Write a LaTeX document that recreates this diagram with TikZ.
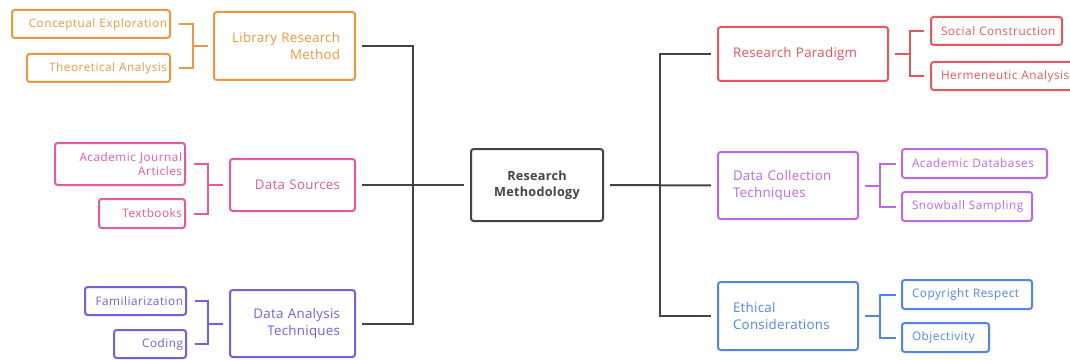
\documentclass[tikz,border=0pt]{standalone}
\usepackage{fontspec}
\setmainfont[LetterSpace=2]{Open Sans}
\newfontfamily\leaffont[LetterSpace=4.5]{Open Sans}
\definecolor{cOrange}{RGB}{240,150,60}
\definecolor{cPink}{RGB}{228,90,160}
\definecolor{cIndigo}{RGB}{112,96,226}
\definecolor{cRed}{RGB}{226,88,94}
\definecolor{cViolet}{RGB}{190,104,232}
\definecolor{cBlue}{RGB}{80,134,234}
\definecolor{cGray}{RGB}{68,68,68}
\tikzset{every picture/.style={line width=0.75pt}}
\tikzset{
  mbox/.style={draw, rounded corners=2pt, line width=1.5pt, inner sep=0pt,
    font=\fontsize{10}{12.5}\selectfont},
  leaf/.style={mbox, font=\leaffont\fontsize{8.8}{10.5}\selectfont},
  lft/.style={align=right},
  rgt/.style={align=left},
  trunk/.style={draw=cGray, line width=1.5pt, shorten <=4.5pt, shorten >=4.5pt},
  twig/.style={line width=1.5pt},
}

\begin{document}
\begin{tikzpicture}[x=0.75pt,y=0.75pt,yscale=-1,xscale=1]
\fill[white] (0,0) rectangle (1070,360);
\clip (0,0) rectangle (1070,360);

%Centre
\node[mbox, draw=cGray, text=cGray, align=center, minimum width=99pt, minimum height=54pt, text width=75pt,
  font=\fontsize{9.5}{12}\selectfont\bfseries] (meth) at (537,185) {Research\\Methodology};

%Left branches
\node[mbox, lft, draw=cOrange, text=cOrange, minimum width=105.75pt, minimum height=51pt, text width=83.25pt] (lib) at (284.5,46) {Library Research\\Method};
\node[mbox, lft, draw=cPink, text=cPink, minimum width=93.75pt, minimum height=39pt, text width=71.25pt] (src) at (292.5,185) {Data Sources};
\node[mbox, lft, draw=cIndigo, text=cIndigo, minimum width=93.75pt, minimum height=50.25pt, text width=71.25pt] (ana) at (292.5,323.5) {Data Analysis\\Techniques};

%Left leaves
\node[leaf, lft, draw=cOrange, text=cOrange, minimum width=118.5pt, minimum height=21pt, text width=114pt] (con) at (91,24) {Conceptual Exploration};
\node[leaf, lft, draw=cOrange, text=cOrange, minimum width=107.25pt, minimum height=21pt, text width=102.75pt] (the) at (98.5,68) {Theoretical Analysis};
\node[leaf, lft, draw=cPink, text=cPink, minimum width=97.5pt, minimum height=31.5pt, text width=93pt] (aja) at (120,164) {Academic Journal\\Articles};
\node[leaf, lft, draw=cPink, text=cPink, minimum width=64.5pt, minimum height=21.75pt, text width=60pt] (txt) at (142,213.5) {Textbooks};
\node[leaf, lft, draw=cIndigo, text=cIndigo, minimum width=75.75pt, minimum height=21pt, text width=71.25pt] (fam) at (135.5,301) {Familiarization};
\node[leaf, lft, draw=cIndigo, text=cIndigo, minimum width=54pt, minimum height=21pt, text width=49.5pt] (cod) at (150,344) {Coding};

%Right branches
\node[mbox, rgt, draw=cRed, text=cRed, minimum width=127.5pt, minimum height=40.5pt, text width=105pt] (par) at (803,54) {Research Paradigm};
\node[mbox, rgt, draw=cViolet, text=cViolet, minimum width=105pt, minimum height=50.25pt, text width=82.5pt] (col) at (788,185.5) {Data Collection\\Techniques};
\node[mbox, rgt, draw=cBlue, text=cBlue, minimum width=105pt, minimum height=51pt, text width=82.5pt] (eth) at (788,316) {Ethical\\Considerations};

%Right leaves
\node[leaf, rgt, draw=cRed, text=cRed, minimum width=98.25pt, minimum height=21pt, text width=83.25pt] (soc) at (996.5,31) {\mbox{Social Construction}};
\node[leaf, rgt, draw=cRed, text=cRed, minimum width=108.75pt, minimum height=21pt, text width=93.75pt] (her) at (1003.5,76) {\mbox{Hermeneutic Analysis}};
\node[leaf, rgt, draw=cViolet, text=cViolet, minimum width=108.75pt, minimum height=21.75pt, text width=93.75pt] (adb) at (974.5,163.5) {\mbox{Academic Databases}};
\node[leaf, rgt, draw=cViolet, text=cViolet, minimum width=97.5pt, minimum height=21.75pt, text width=82.5pt] (snow) at (967,206.5) {\mbox{Snowball Sampling}};
\node[leaf, rgt, draw=cBlue, text=cBlue, minimum width=97.5pt, minimum height=21.75pt, text width=82.5pt] (cop) at (967,294.5) {\mbox{Copyright Respect}};
\node[leaf, rgt, draw=cBlue, text=cBlue, minimum width=65.25pt, minimum height=21.75pt, text width=50.25pt] (obj) at (945.5,337.5) {Objectivity};

%Trunks
\coordinate (ltr) at (413,185);
\coordinate (rtr) at (660,185);
\draw[trunk, shorten >=0pt] (lib.east) -| (ltr);
\draw[trunk, shorten <=0pt] (ltr) |- (ana.east);
\draw[trunk] (src.east) -- (meth.west);
\draw[trunk] (meth.east) -- (col.west);
\draw[trunk, shorten >=0pt] (par.west) -| (rtr);
\draw[trunk, shorten <=0pt] (rtr) |- (eth.west);

%Brackets, left
\coordinate (bo) at (193,46);
\coordinate (bp) at (208,185);
\coordinate (bi) at (208,323.5);
\draw[twig, draw=cOrange, shorten <=6pt] (con.east) -| (bo);
\draw[twig, draw=cOrange, shorten <=6pt] (the.east) -| (bo);
\draw[twig, draw=cOrange, shorten >=3.5pt] (bo) -- (lib.west);
\draw[twig, draw=cPink, shorten <=6pt] (aja.east) -| (bp);
\draw[twig, draw=cPink, shorten <=6pt] (txt.east) -| (bp);
\draw[twig, draw=cPink, shorten >=4.5pt] (bp) -- (src.west);
\draw[twig, draw=cIndigo, shorten <=6pt] (fam.east) -| (bi);
\draw[twig, draw=cIndigo, shorten <=6pt] (cod.east) -| (bi);
\draw[twig, draw=cIndigo, shorten >=4.5pt] (bi) -- (ana.west);

%Brackets, right
\coordinate (br) at (910,54);
\coordinate (bv) at (880,185.5);
\coordinate (bb) at (880,316);
\draw[twig, draw=cRed, shorten <=4.5pt] (par.east) -- (br);
\draw[twig, draw=cRed, shorten >=4.5pt] (br) |- (soc.west);
\draw[twig, draw=cRed, shorten >=4.5pt] (br) |- (her.west);
\draw[twig, draw=cViolet, shorten <=4.5pt] (col.east) -- (bv);
\draw[twig, draw=cViolet, shorten >=4pt] (bv) |- (adb.west);
\draw[twig, draw=cViolet, shorten >=4pt] (bv) |- (snow.west);
\draw[twig, draw=cBlue, shorten <=4.5pt] (eth.east) -- (bb);
\draw[twig, draw=cBlue, shorten >=4pt] (bb) |- (cop.west);
\draw[twig, draw=cBlue, shorten >=4pt] (bb) |- (obj.west);

\end{tikzpicture}
\end{document}
